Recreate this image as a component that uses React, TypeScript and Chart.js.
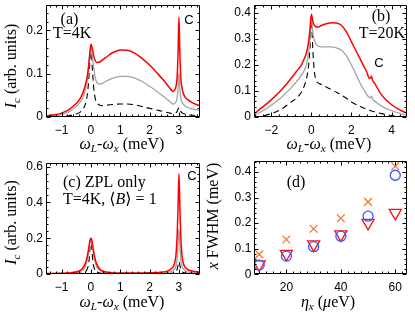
import React, { useEffect, useRef } from "react";
import { Chart, registerables } from "chart.js";
Chart.register(...registerables);

const W = 415;
const H = 312;
const SERIF = '"Liberation Serif", "DejaVu Serif", serif';
const SANS = '"Liberation Sans", Arial, sans-serif';

// ---------- Panel (a): T = 4K ----------
const aX = [-1.53, -1.25, -1, -0.75, -0.5, -0.35, -0.25, -0.15, -0.1, -0.05, 0, 0.05, 0.1, 0.15, 0.2, 0.3, 0.4, 0.5, 0.75, 1, 1.25, 1.5, 1.75, 2, 2.25, 2.5, 2.7, 2.8, 2.88, 2.94, 2.97, 3, 3.03, 3.06, 3.12, 3.2, 3.3, 3.45, 3.7];
const aRed = [0.003, 0.005, 0.009, 0.017, 0.031, 0.045, 0.06, 0.085, 0.105, 0.138, 0.168, 0.158, 0.14, 0.13, 0.126, 0.127, 0.132, 0.137, 0.149, 0.155, 0.154, 0.147, 0.135, 0.12, 0.102, 0.083, 0.066, 0.059, 0.066, 0.095, 0.15, 0.231, 0.15, 0.095, 0.062, 0.047, 0.04, 0.033, 0.026];
const aGray = [0.002, 0.003, 0.006, 0.012, 0.024, 0.036, 0.049, 0.075, 0.098, 0.135, 0.166, 0.14, 0.112, 0.09, 0.08, 0.076, 0.078, 0.082, 0.09, 0.094, 0.094, 0.09, 0.082, 0.071, 0.059, 0.046, 0.035, 0.03, 0.033, 0.045, 0.068, 0.101, 0.068, 0.045, 0.032, 0.026, 0.022, 0.019, 0.015];
const aDash = [0, 0.0005, 0.001, 0.003, 0.007, 0.012, 0.02, 0.04, 0.065, 0.11, 0.162, 0.11, 0.065, 0.042, 0.033, 0.027, 0.026, 0.027, 0.029, 0.03, 0.03, 0.028, 0.024, 0.02, 0.016, 0.012, 0.009, 0.008, 0.009, 0.013, 0.018, 0.022, 0.018, 0.013, 0.009, 0.007, 0.005, 0.004, 0.003];
const aXTicks = [-1, 0, 1, 2, 3];
const aYTicks = [0, 0.1, 0.2];

// ---------- Panel (b): T = 20K ----------
const bX = [-2.86, -2.5, -2, -1.5, -1, -0.75, -0.5, -0.35, -0.25, -0.15, -0.08, 0, 0.08, 0.15, 0.25, 0.35, 0.5, 0.75, 1, 1.25, 1.5, 1.75, 2, 2.25, 2.5, 2.75, 2.9, 2.97, 3, 3.05, 3.15, 3.5, 4, 4.5, 4.77];
const bRed = [0.012, 0.034, 0.066, 0.104, 0.149, 0.175, 0.2, 0.225, 0.245, 0.283, 0.327, 0.395, 0.366, 0.353, 0.346, 0.346, 0.352, 0.359, 0.363, 0.362, 0.353, 0.327, 0.289, 0.251, 0.213, 0.175, 0.148, 0.152, 0.158, 0.141, 0.13, 0.085, 0.047, 0.024, 0.015];
const bGray = [0.006, 0.02, 0.045, 0.075, 0.113, 0.135, 0.16, 0.18, 0.2, 0.24, 0.29, 0.385, 0.32, 0.295, 0.28, 0.272, 0.27, 0.27, 0.27, 0.266, 0.257, 0.235, 0.2, 0.16, 0.12, 0.088, 0.075, 0.076, 0.08, 0.068, 0.062, 0.042, 0.024, 0.012, 0.007];
const bDash = [0, 0.003, 0.013, 0.03, 0.058, 0.072, 0.095, 0.12, 0.145, 0.19, 0.25, 0.372, 0.25, 0.175, 0.14, 0.13, 0.125, 0.115, 0.105, 0.095, 0.084, 0.072, 0.058, 0.047, 0.038, 0.03, 0.026, 0.024, 0.023, 0.022, 0.02, 0.013, 0.006, 0.002, 0.001];
const bXTicks = [-2, 0, 2, 4];
const bYTicks = [0, 0.1, 0.2, 0.3, 0.4];

// ---------- Panel (c): ZPL only ----------
const cX = [-1.53, -1, -0.6, -0.4, -0.3, -0.2, -0.15, -0.1, -0.06, -0.03, 0, 0.03, 0.06, 0.1, 0.15, 0.2, 0.3, 0.4, 0.6, 1, 1.5, 2, 2.4, 2.6, 2.7, 2.8, 2.85, 2.9, 2.94, 2.97, 3, 3.03, 3.06, 3.1, 3.15, 3.2, 3.3, 3.4, 3.7];
const cRed = [0.003, 0.004, 0.008, 0.017, 0.028, 0.055, 0.08, 0.12, 0.16, 0.19, 0.2, 0.19, 0.16, 0.12, 0.08, 0.055, 0.028, 0.017, 0.009, 0.005, 0.005, 0.007, 0.01, 0.016, 0.025, 0.04, 0.06, 0.11, 0.22, 0.38, 0.56, 0.38, 0.22, 0.11, 0.06, 0.04, 0.025, 0.018, 0.01];
const cGray = [0.002, 0.003, 0.006, 0.012, 0.02, 0.04, 0.062, 0.1, 0.145, 0.18, 0.195, 0.18, 0.145, 0.1, 0.062, 0.04, 0.02, 0.012, 0.006, 0.003, 0.003, 0.004, 0.006, 0.009, 0.012, 0.02, 0.028, 0.045, 0.09, 0.17, 0.25, 0.17, 0.09, 0.045, 0.028, 0.02, 0.012, 0.009, 0.005];
const cDash = [0, 0.001, 0.002, 0.004, 0.006, 0.012, 0.02, 0.04, 0.08, 0.15, 0.2, 0.15, 0.08, 0.04, 0.02, 0.012, 0.006, 0.004, 0.002, 0.001, 0.001, 0.001, 0.002, 0.003, 0.004, 0.006, 0.009, 0.014, 0.028, 0.05, 0.07, 0.05, 0.028, 0.014, 0.009, 0.006, 0.004, 0.003, 0.002];
const cXTicks = [-1, 0, 1, 2, 3];
const cYTicks = [0, 0.2, 0.4, 0.6];

// ---------- Panel (d): FWHM vs eta_x ----------
const dEta = [10, 20, 30, 40, 50, 60];
const dCross = [0.078, 0.136, 0.178, 0.219, 0.283, 0.422];
const dCircle = [0.036, 0.071, 0.108, 0.149, 0.227, 0.387];
const dTriangle = [0.039, 0.08, 0.117, 0.156, 0.201, 0.24];
const dXTicks = [20, 40, 60];
const dYTicks = [0, 0.1, 0.2, 0.3, 0.4];

type Run = { t: string; i?: boolean; s?: boolean };
type TextItem = { runs: Run[]; x: number; y: number; size: number; font?: string; rot?: boolean; align?: "left" | "center" };
type Panel = {
  area: [number, number, number, number];
  xr: [number, number];
  yr: [number, number];
  xTicks: number[];
  yTicks: number[];
  xMinor: number;
  yMinor: number;
  datasets: any[];
  texts: TextItem[];
};

const pts = (xs: number[], ys: number[]) => xs.map((x, k) => ({ x, y: ys[k] }));

const redLine = (data: any) => ({ data, showLine: true, borderColor: "#ff0000", borderWidth: 1.5, pointRadius: 0, cubicInterpolationMode: "monotone" });
const grayLine = (data: any) => ({ data, showLine: true, borderColor: "#a3a3a3", borderWidth: 1.3, pointRadius: 0, cubicInterpolationMode: "monotone" });
const dashLine = (data: any) => ({ data, showLine: true, borderColor: "#000000", borderWidth: 1.1, borderDash: [6, 4], pointRadius: 0, cubicInterpolationMode: "monotone" });

const xTitle = (x: number, y: number): TextItem => ({
  runs: [{ t: "ω", i: true }, { t: "L", i: true, s: true }, { t: "-" }, { t: "ω", i: true }, { t: "x", i: true, s: true }, { t: " (meV)" }],
  x, y, size: 16,
});
const icTitle = (x: number, y: number): TextItem => ({
  runs: [{ t: "I", i: true }, { t: "c", i: true, s: true }, { t: " (arb. units)" }],
  x, y, size: 16, rot: true,
});

const panels: Panel[] = [
  {
    area: [46, 5, 199.5, 117],
    xr: [-1.53, 3.7],
    yr: [0, 0.2587],
    xTicks: aXTicks,
    yTicks: aYTicks,
    xMinor: 0.2,
    yMinor: 0.02,
    datasets: [redLine(pts(aX, aRed)), grayLine(pts(aX, aGray)), dashLine(pts(aX, aDash))],
    texts: [
      { runs: [{ t: "(a)" }], x: 69.5, y: 19, size: 16 },
      { runs: [{ t: "T=4K" }], x: 53, y: 33, size: 16, align: "left" },
      { runs: [{ t: "C" }], x: 189, y: 19.5, size: 13, font: SANS },
      xTitle(122, 143.5),
      icTitle(11, 66),
    ],
  },
  {
    area: [254, 5, 407, 117],
    xr: [-2.86, 4.77],
    yr: [0, 0.4308],
    xTicks: bXTicks,
    yTicks: bYTicks,
    xMinor: 0.4,
    yMinor: 0.02,
    datasets: [redLine(pts(bX, bRed)), grayLine(pts(bX, bGray)), dashLine(pts(bX, bDash))],
    texts: [
      { runs: [{ t: "(b)" }], x: 381, y: 15.5, size: 16 },
      { runs: [{ t: "T=20K" }], x: 382, y: 32.5, size: 16 },
      { runs: [{ t: "C" }], x: 379, y: 62.5, size: 13, font: SANS },
      xTitle(329, 143.5),
    ],
  },
  {
    area: [46, 163, 199.5, 274],
    xr: [-1.53, 3.7],
    yr: [0, 0.62],
    xTicks: cXTicks,
    yTicks: cYTicks,
    xMinor: 0.2,
    yMinor: 0.04,
    datasets: [redLine(pts(cX, cRed)), grayLine(pts(cX, cGray)), dashLine(pts(cX, cDash))],
    texts: [
      { runs: [{ t: "(c) ZPL only" }], x: 63, y: 181.5, size: 16, align: "left" },
      { runs: [{ t: "T=4K, " }, { t: "⟨" }, { t: "B", i: true }, { t: "⟩" }, { t: " = 1" }], x: 63, y: 198.5, size: 16, align: "left" },
      { runs: [{ t: "C" }], x: 192, y: 176, size: 13, font: SANS },
      xTitle(122, 301.5),
      icTitle(11, 222.5),
    ],
  },
  {
    area: [254.3, 161, 407, 274.3],
    xr: [8.2, 64.2],
    yr: [0, 0.4426],
    xTicks: dXTicks,
    yTicks: dYTicks,
    xMinor: 2.5,
    yMinor: 0.02,
    datasets: [
      { data: pts(dEta, dCross), pointStyle: "crossRot", pointRadius: 5.5, borderColor: "#ff7022", backgroundColor: "rgba(0,0,0,0)", borderWidth: 1.3 },
      { data: pts(dEta, dCircle), pointStyle: "circle", pointRadius: 5, borderColor: "#2f5cff", backgroundColor: "rgba(0,0,0,0)", borderWidth: 1.3 },
      { data: pts(dEta, dTriangle), pointStyle: "triangle", rotation: 180, pointRadius: 7, borderColor: "#ff1010", backgroundColor: "rgba(0,0,0,0)", borderWidth: 1.3 },
    ],
    texts: [
      { runs: [{ t: "(d)" }], x: 296, y: 182, size: 16 },
      { runs: [{ t: "η", i: true }, { t: "x", i: true, s: true }, { t: " (" }, { t: "μ", i: true }, { t: "eV)" }], x: 328, y: 301.5, size: 16 },
      { runs: [{ t: "x", i: true }, { t: " FWHM (meV)" }], x: 213, y: 216, size: 16, rot: true },
    ],
  },
];

function drawRich(ctx: CanvasRenderingContext2D, it: TextItem) {
  ctx.save();
  const size = it.size;
  const fam = it.font || SERIF;
  const fontFor = (r: Run) => `${r.i ? "italic " : ""}${r.s ? size * 0.7 : size}px ${fam}`;
  let total = 0;
  const widths = it.runs.map((r) => {
    ctx.font = fontFor(r);
    const w = ctx.measureText(r.t).width;
    total += w;
    return w;
  });
  ctx.translate(it.x, it.y);
  if (it.rot) ctx.rotate(-Math.PI / 2);
  let x = it.align === "left" ? 0 : -total / 2;
  const base = size * 0.34;
  ctx.fillStyle = "#000";
  ctx.textBaseline = "alphabetic";
  ctx.textAlign = "left";
  it.runs.forEach((r, k) => {
    ctx.font = fontFor(r);
    ctx.fillText(r.t, x, r.s ? base + size * 0.22 : base);
    x += widths[k];
  });
  ctx.restore();
}

const fmt = (v: number) => (v < 0 ? "\u2212" + String(Math.abs(v)) : String(v));

function makeFramePlugin(p: Panel) {
  return {
    id: "frameTicks",
    afterDatasetsDraw(chart: any) {
      const { ctx, chartArea: a, scales } = chart;
      const xs = scales.x;
      const ys = scales.y;
      ctx.save();
      ctx.strokeStyle = "#000";
      ctx.lineWidth = 1;
      ctx.beginPath();
      const L = Math.round(a.left) + 0.5;
      const R = Math.round(a.right) - 0.5;
      const T = Math.round(a.top) + 0.5;
      const B = Math.round(a.bottom) - 0.5;
      ctx.rect(L, T, R - L, B - T);
      const isMajor = (list: number[], v: number) => list.some((m) => Math.abs(m - v) < 1e-9);
      const k0 = Math.ceil(p.xr[0] / p.xMinor - 1e-9);
      const k1 = Math.floor(p.xr[1] / p.xMinor + 1e-9);
      for (let k = k0; k <= k1; k++) {
        const v = k * p.xMinor;
        const len = isMajor(p.xTicks, v) ? 4 : 2;
        const px = Math.round(xs.getPixelForValue(v)) + 0.5;
        ctx.moveTo(px, B);
        ctx.lineTo(px, B - len);
        ctx.moveTo(px, T);
        ctx.lineTo(px, T + len);
      }
      const j0 = Math.ceil(p.yr[0] / p.yMinor - 1e-9);
      const j1 = Math.floor(p.yr[1] / p.yMinor + 1e-9);
      for (let j = j0; j <= j1; j++) {
        const v = j * p.yMinor;
        const len = isMajor(p.yTicks, v) ? 4 : 2;
        const py = Math.round(ys.getPixelForValue(v)) + 0.5;
        ctx.moveTo(L, py);
        ctx.lineTo(L + len, py);
        ctx.moveTo(R, py);
        ctx.lineTo(R - len, py);
      }
      ctx.stroke();
      ctx.restore();
    },
    afterDraw(chart: any) {
      const ctx = chart.ctx;
      p.texts.forEach((t) => drawRich(ctx, t));
    },
  };
}

const YW = 40;
const XH = 22;

function makeConfig(p: Panel): any {
  const [L, T, R, B] = p.area;
  const zeroPad = (s: any) => {
    s.paddingLeft = 0;
    s.paddingRight = 0;
    s.paddingTop = 0;
    s.paddingBottom = 0;
  };
  return {
    type: "scatter",
    data: { datasets: p.datasets },
    options: {
      responsive: false,
      animation: false,
      events: [],
      layout: { padding: { left: L - YW, top: T, right: W - R, bottom: H - B - XH } },
      plugins: { legend: { display: false }, tooltip: { enabled: false } },
      scales: {
        x: {
          type: "linear",
          position: "bottom",
          min: p.xr[0],
          max: p.xr[1],
          grid: { display: false, drawTicks: false },
          border: { display: false },
          ticks: { color: "#000", font: { family: SANS, size: 12 }, padding: 6, autoSkip: false, maxRotation: 0, callback: (v: number) => fmt(v) },
          afterBuildTicks: (s: any) => {
            s.ticks = p.xTicks.map((v) => ({ value: v }));
          },
          afterFit: (s: any) => {
            s.height = XH;
            zeroPad(s);
          },
        },
        y: {
          type: "linear",
          position: "left",
          min: p.yr[0],
          max: p.yr[1],
          grid: { display: false, drawTicks: false },
          border: { display: false },
          ticks: { color: "#000", font: { family: SANS, size: 12 }, padding: 3, autoSkip: false, callback: (v: number) => fmt(v) },
          afterBuildTicks: (s: any) => {
            s.ticks = p.yTicks.map((v) => ({ value: v }));
          },
          afterFit: (s: any) => {
            s.width = YW;
            zeroPad(s);
          },
        },
      },
    },
    plugins: [makeFramePlugin(p)],
  };
}

function PanelCanvas({ p }: { p: Panel }) {
  const ref = useRef<HTMLCanvasElement | null>(null);
  useEffect(() => {
    if (!ref.current) return;
    const chart = new Chart(ref.current, makeConfig(p));
    return () => chart.destroy();
  }, [p]);
  return <canvas ref={ref} width={W} height={H} style={{ position: "absolute", left: 0, top: 0, width: W, height: H }} />;
}

export default function App() {
  return (
    <div style={{ position: "absolute", left: 0, top: 0, width: W, height: H, background: "#fff" }}>
      {panels.map((p, i) => (
        <PanelCanvas key={i} p={p} />
      ))}
    </div>
  );
}
